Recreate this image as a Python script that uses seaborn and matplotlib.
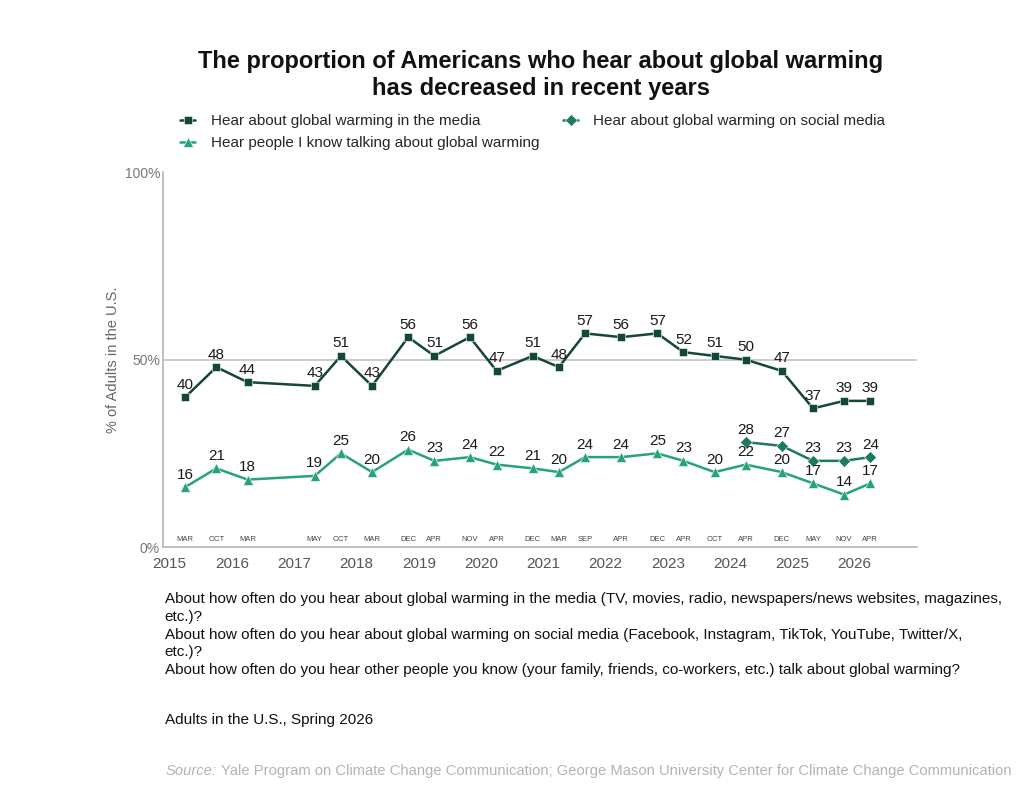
import numpy as np
import pandas as pd
import seaborn as sns
import matplotlib.pyplot as plt

# --- Survey waves (position on the time axis, in decimal years) ---
survey_time = [2015.25, 2015.75, 2016.25, 2017.33, 2017.75, 2018.25, 2018.83, 2019.25,
               2019.82, 2020.25, 2020.83, 2021.25, 2021.67, 2022.25, 2022.83, 2023.25,
               2023.75, 2024.25, 2024.83, 2025.33, 2025.83, 2026.25]
survey_month = ["MAR", "OCT", "MAR", "MAY", "OCT", "MAR", "DEC", "APR", "NOV", "APR", "DEC",
                "MAR", "SEP", "APR", "DEC", "APR", "OCT", "APR", "DEC", "MAY", "NOV", "APR"]

media = [40, 48, 44, 43, 51, 43, 56, 51, 56, 47, 51, 48, 57, 56, 57, 52, 51, 50, 47, 37, 39, 39]
people = [16, 21, 18, 19, 25, 20, 26, 23, 24, 22, 21, 20, 24, 24, 25, 23, 20, 22, 20, 17, 14, 17]

social_time = [2024.25, 2024.83, 2025.33, 2025.83, 2026.25]
social = [28, 27, 23, 23, 24]

years = list(range(2015, 2027))

labels = {
    "media": "Hear about global warming in the media",
    "social": "Hear about global warming on social media",
    "people": "Hear people I know talking about global warming",
}
colors = {"media": "#12473a", "social": "#1d7a5c", "people": "#27a27b"}

sns.set_style("white")
plt.rcParams["font.family"] = ["Liberation Sans", "DejaVu Sans"]

fig = plt.figure(figsize=(10.24, 8.01), dpi=100)
ax = fig.add_axes([0.159, 0.317, 0.7365, 0.468])

df_media = pd.DataFrame({"time": survey_time, "value": media})
df_people = pd.DataFrame({"time": survey_time, "value": people})
df_social = pd.DataFrame({"time": social_time, "value": social})

ax.axhline(50, color="#c4c4c4", lw=1.2, zorder=0)

sns.lineplot(data=df_media, x="time", y="value", ax=ax, color=colors["media"], lw=1.8,
             marker="s", markersize=6, markeredgecolor="white", markeredgewidth=0.4,
             label=labels["media"])
sns.lineplot(data=df_people, x="time", y="value", ax=ax, color=colors["people"], lw=1.8,
             marker="^", markersize=7.5, markeredgecolor="white", markeredgewidth=0.4,
             label=labels["people"])
sns.lineplot(data=df_social, x="time", y="value", ax=ax, color=colors["social"], lw=1.8,
             marker="D", markersize=6.5, markeredgecolor="white", markeredgewidth=0.4,
             label=labels["social"])

# --- value labels ---
for times, vals in [(survey_time, media), (survey_time, people), (social_time, social)]:
    for t, v in zip(times, vals):
        ax.annotate(str(v), (t, v), xytext=(0, 4), textcoords="offset points",
                    ha="center", va="bottom", fontsize=11, color="#1a1a1a")

# --- month labels along the bottom ---
for t, m in zip(survey_time, survey_month):
    ax.text(t, 1.9, m, ha="center", va="center", fontsize=5.5, color="#444444")

ax.set_xlim(2014.89, 2027)
ax.set_ylim(0, 100)
ax.set_xticks(years)
ax.set_xticklabels([str(y) for y in years], fontsize=11, color="#555555")
ax.set_yticks([0, 50, 100])
ax.set_yticklabels(["0%", "50%", "100%"], fontsize=10, color="#777777")
ax.tick_params(axis="x", length=4, width=1, color="#aaaaaa", pad=3)
ax.tick_params(axis="y", length=0, pad=2)
ax.set_xlabel("")
ax.set_ylabel("% of Adults in the U.S.", fontsize=10.5, color="#666666", labelpad=3)
sns.despine(ax=ax)
for side in ["left", "bottom"]:
    ax.spines[side].set_color("#b5b5b5")
    ax.spines[side].set_linewidth(1.2)

handles, hl = ax.get_legend_handles_labels()
order = [hl.index(labels["media"]), hl.index(labels["people"]), hl.index(labels["social"])]
ax.legend([handles[i] for i in order], [hl[i] for i in order], ncol=2,
          loc="upper left", bbox_to_anchor=(0.17, 0.865), bbox_transform=fig.transFigure,
          frameon=False, fontsize=11, handlelength=1.0, handletextpad=1.0,
          columnspacing=1.55, labelspacing=0.5, borderaxespad=0)

fig.text(0.528, 0.906, "The proportion of Americans who hear about global warming\nhas decreased in recent years",
         ha="center", va="center", fontsize=17, fontweight="bold", linespacing=1.2, color="#111111")

notes = ("About how often do you hear about global warming in the media (TV, movies, radio, newspapers/news websites, magazines,\n"
         "etc.)?\n"
         "About how often do you hear about global warming on social media (Facebook, Instagram, TikTok, YouTube, Twitter/X,\n"
         "etc.)?\n"
         "About how often do you hear other people you know (your family, friends, co-workers, etc.) talk about global warming?")
fig.text(0.161, 0.261, notes, ha="left", va="top", fontsize=11, linespacing=1.35, color="#111111")
fig.text(0.161, 0.101, "Adults in the U.S., Spring 2026", ha="left", va="center", fontsize=11, color="#111111")
src = fig.text(0.162, 0.037, "Source:", ha="left", va="center", fontsize=10.6, style="italic", color="#b3b3b3")
ax.annotate("Yale Program on Climate Change Communication; George Mason University Center for Climate Change Communication",
            xy=(1, 0), xycoords=src, xytext=(3, 0), textcoords="offset points",
            ha="left", va="bottom", fontsize=10.6, color="#b3b3b3", annotation_clip=False)

fig.savefig("out.png", dpi=100)
